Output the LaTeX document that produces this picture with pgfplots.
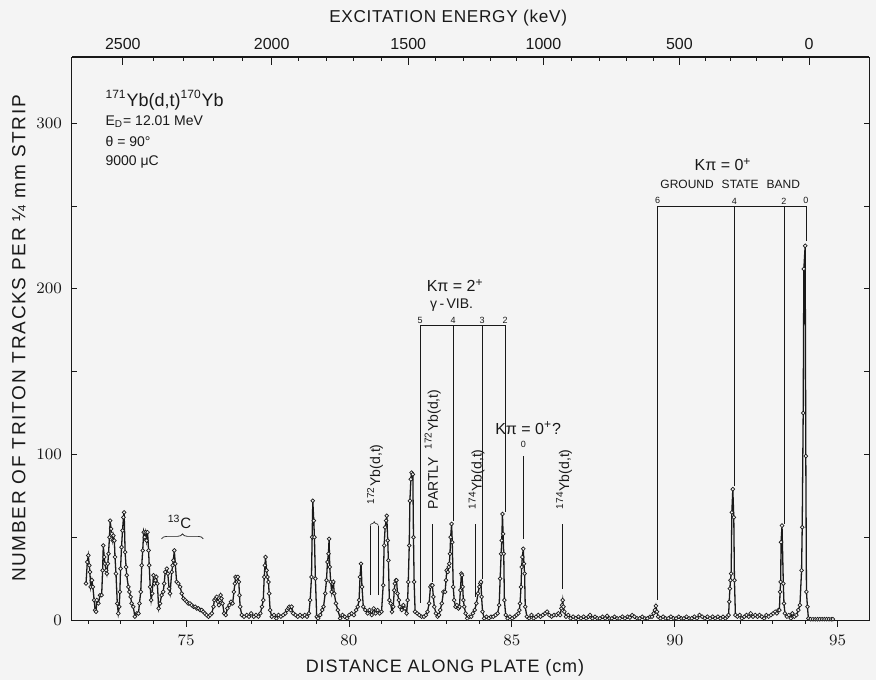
\documentclass[border=0pt]{standalone}
\usepackage{fontspec}
\setmainfont{Liberation Sans}
\usepackage{pgfplots}
\usepackage{pgfplotstable}
\pgfplotsset{compat=1.18}
\usetikzlibrary{decorations.pathreplacing}

\definecolor{paper}{gray}{0.955}
\definecolor{ink}{gray}{0.10}

% triton counts per 1/4 mm strip versus position along the plate (cm)
\pgfplotstableread{
x y
71.93 22
71.97 35
72.00 39
72.03 33
72.05 29
72.07 20
72.11 24
72.14 20
72.18 12
72.21 6
72.24 5
72.26 12
72.31 10
72.36 15
72.41 15
72.44 30
72.46 45
72.49 38
72.51 34
72.55 30
72.57 28
72.60 34
72.62 40
72.65 50
72.67 60
72.70 55
72.72 52
72.75 48
72.77 51
72.80 48
72.82 38
72.85 28
72.89 10
72.92 4
72.95 8
72.97 17
72.99 31
73.02 44
73.05 54
73.08 62
73.10 65
73.13 41
73.16 32
73.18 27
73.23 20
73.26 17
73.30 14
73.33 10
73.38 8
73.43 2
73.49 4
73.54 4
73.57 10
73.61 17
73.64 33
73.67 42
73.70 53
73.73 50
73.76 53
73.79 48
73.82 53
73.85 42
73.87 33
73.90 20
73.93 12
73.96 16
74.00 27
74.03 22
74.06 24
74.09 26
74.12 22
74.16 7
74.20 10
74.25 15
74.30 17
74.33 22
74.36 29
74.41 31
74.44 28
74.48 19
74.51 16
74.56 29
74.59 33
74.61 36
74.64 42
74.67 34
74.71 23
74.76 22
74.82 20
74.87 16
74.92 13
74.97 12
75.02 11
75.07 10
75.12 10
75.17 9
75.23 8
75.28 8
75.33 7
75.38 7
75.43 6
75.48 6
75.53 5
75.58 4
75.63 3
75.69 2
75.74 3
75.79 4
75.84 8
75.87 12
75.91 13
75.94 14
75.98 11
76.01 9
76.04 12
76.06 15
76.09 13
76.12 10
76.17 4
76.22 3
76.27 7
76.33 9
76.38 11
76.43 10
76.47 17
76.50 22
76.52 26
76.55 25
76.59 26
76.62 23
76.64 15
76.66 8
76.71 3
76.78 2
76.86 3
76.93 2
77.00 4
77.08 2
77.15 3
77.22 2
77.28 4
77.33 8
77.37 12
77.40 26
77.42 33
77.44 38
77.47 30
77.50 26
77.53 23
77.55 16
77.58 6
77.63 2
77.70 3
77.77 1
77.84 3
77.91 2
77.98 3
78.05 4
78.10 6
78.14 7
78.17 8
78.21 6
78.24 8
78.29 4
78.36 3
78.43 2
78.50 3
78.57 2
78.64 3
78.71 2
78.77 4
78.81 12
78.85 26
78.87 50
78.89 72
78.92 60
78.94 50
78.97 25
79.01 2
79.05 1
79.12 3
79.18 6
79.22 8
79.27 16
79.31 24
79.34 35
79.37 40
79.39 49
79.41 32
79.44 23
79.47 17
79.50 22
79.52 23
79.55 16
79.60 10
79.66 6
79.73 1
79.80 3
79.87 2
79.94 1
80.01 3
80.08 4
80.15 3
80.22 6
80.27 8
80.31 12
80.34 26
80.37 34
80.40 20
80.44 8
80.50 6
80.57 4
80.63 6
80.70 3
80.76 7
80.82 4
80.88 6
80.94 4
81.00 5
81.05 21
81.08 45
81.11 56
81.14 60
81.16 63
81.19 48
81.21 36
81.24 12
81.28 10
81.32 5
81.36 8
81.39 18
81.41 22
81.44 24
81.46 24
81.49 16
81.53 12
81.56 8
81.62 6
81.67 9
81.72 7
81.77 4
81.80 12
81.82 23
81.85 45
81.87 72
81.90 85
81.92 89
81.96 88
81.98 50
82.00 23
82.03 5
82.09 4
82.16 3
82.23 2
82.30 2
82.36 3
82.41 5
82.46 10
82.50 20
82.53 21
82.56 21
82.59 14
82.62 8
82.67 4
82.72 2
82.76 3
82.80 6
82.85 10
82.90 17
82.95 17
82.98 24
83.00 30
83.03 29
83.06 32
83.08 34
83.10 40
83.12 50
83.15 58
83.17 47
83.20 20
83.23 12
83.27 8
83.31 9
83.36 7
83.39 8
83.42 18
83.45 28
83.47 27
83.49 20
83.51 12
83.54 8
83.58 4
83.63 1
83.69 2
83.75 2
83.80 4
83.86 6
83.91 10
83.96 16
84.00 20
84.03 22
84.05 23
84.07 14
84.10 5
84.15 1
84.22 2
84.29 1
84.36 2
84.43 2
84.50 3
84.56 4
84.61 9
84.64 25
84.67 40
84.69 48
84.71 64
84.73 52
84.75 40
84.77 12
84.81 3
84.87 1
84.94 2
85.01 1
85.08 2
85.14 3
85.20 4
85.23 6
85.25 10
85.28 20
85.30 32
85.32 38
85.35 43
85.37 34
85.39 28
85.41 8
85.46 2
85.53 1
85.60 3
85.67 1
85.74 2
85.81 3
85.88 2
85.95 3
86.02 4
86.08 5
86.15 3
86.22 2
86.29 3
86.37 3
86.43 4
86.48 3
86.52 7
86.54 9
86.56 12
86.58 8
86.61 5
86.66 2
86.73 3
86.80 1
86.88 2
86.96 1
87.04 2
87.12 1
87.20 2
87.28 1
87.35 2
87.40 3
87.47 1
87.55 2
87.62 1
87.70 1
87.78 2
87.86 1
87.92 2.5
87.99 1
88.07 1
88.15 2
88.23 1
88.31 1
88.39 2
88.47 1
88.55 2
88.62 1.5
88.69 3
88.76 2
88.84 1
88.92 1
89.00 2
89.08 1
89.16 1
89.24 2
89.30 2
89.35 4
89.39 6
89.42 8.5
89.45 5
89.49 2
89.56 1
89.64 2
89.72 1
89.80 1
89.88 2
89.96 1
90.04 1
90.12 2
90.20 1
90.28 1
90.36 2
90.44 1
90.52 1
90.60 2
90.68 1
90.76 3
90.84 2
90.92 1
91.00 2
91.08 1
91.16 2
91.24 1
91.32 2
91.40 1
91.48 2
91.55 1
91.61 2
91.65 3
91.67 11
91.69 19
91.71 24
91.73 28
91.75 65
91.78 79
91.81 62
91.83 24
91.86 3
91.92 2
91.99 3
92.06 1
92.13 2
92.20 3
92.27 2
92.33 4
92.40 2
92.47 3
92.54 2
92.60 3
92.67 2
92.74 1
92.81 3
92.88 2
92.95 3
93.02 4
93.08 5
93.13 4
93.18 6
93.21 6
93.23 17
93.25 23
93.26 47
93.29 57
93.33 22
93.35 10
93.38 4
93.44 2
93.50 3
93.56 1
93.61 4
93.67 2
93.73 3
93.79 6
93.84 9
93.89 30
93.91 56
93.94 125
93.96 212
94.00 226
94.02 99
94.04 17
94.07 8
94.10 1
94.17 0.5
94.24 0.5
94.31 0.5
94.38 0.5
94.45 0.5
94.52 0.5
94.59 0.5
94.66 0.5
94.73 0.5
94.80 0.5
94.85 0.5
}\spectrum

\pgfplotsset{
  plate/.style={
    scale only axis, width=398.5pt, height=281.5pt,
    at={(0,0)}, anchor=south west,
    xmin=71.5, xmax=95.96, ymin=0, ymax=340,
    axis line style={line width=0.5pt, ink},
    tick style={line width=0.4pt, ink},
    tick label style={font=\fontsize{8}{9}\selectfont, text=ink},
  },
}

\begin{document}
\begin{tikzpicture}
\path[use as bounding box, fill=paper] (-36pt,-30pt) rectangle (402pt,310pt);

% counts scale, ticks on both sides
\begin{axis}[plate, xtick=\empty,
  ytick={0,100,200,300}, minor ytick={50,150,250},
  ytick pos=both, yticklabel pos=left, tick align=inside,
  major tick length=2.5pt, minor tick length=2.5pt,
  yticklabel style={xshift=-1.5pt}]
\end{axis}

% excitation energy scale along the top
\begin{axis}[plate, axis x line*=top, axis y line=none, ytick=\empty,
  tick align=inside,
  xtick={73.06,77.63,81.82,85.97,90.14,94.12},
  xticklabels={2500,2000,1500,1000,500,0},
  minor xtick={74.00,74.92,75.84,76.74,78.45,79.30,80.13,81.01,82.64,83.51,
    84.33,85.15,86.84,87.68,88.52,89.34,90.93,91.72,92.51,93.31},
  major tick length=3.8pt, minor tick length=2pt]
\end{axis}

% spectrum and plate scale
\begin{axis}[plate, ytick=\empty, clip=false,
  xtick={75,80,85,90,95},
  minor xtick={72,73,74,76,77,78,79,81,82,83,84,86,87,88,89,91,92,93,94},
  xtick pos=left, tick align=outside,
  major tick length=3.3pt, minor tick length=1.8pt,
  xticklabel style={yshift=-1pt}]

\addplot[ink, line width=0.65pt, mark=*, mark size=0.95pt,
  mark options={fill=paper, draw=ink, line width=0.35pt, solid}]
  table {\spectrum};

% axis titles
\node[font=\fontsize{9.5}{11}\selectfont\addfontfeatures{LetterSpace=9}, text=ink, rotate=90]
  at (axis description cs:-0.0665,0.5) {NUMBER OF TRITON TRACKS PER ¼ mm STRIP};
\node[font=\fontsize{9}{10}\selectfont\addfontfeatures{LetterSpace=5}, text=ink]
  at (axis description cs:0.468,-0.0853) {DISTANCE ALONG PLATE (cm)};
\node[font=\fontsize{8.6}{10}\selectfont\addfontfeatures{LetterSpace=4}, text=ink]
  at (axis description cs:0.472,1.0693) {EXCITATION ENERGY (keV)};

% reaction and run conditions
\node[anchor=west, font=\fontsize{9}{10}\selectfont, text=ink, inner sep=0pt]
  at (axis cs:72.52,314) {\textsuperscript{171}Yb(d,t)\textsuperscript{170}Yb};
\node[anchor=west, font=\fontsize{7}{8}\selectfont, text=ink, inner sep=0pt]
  at (axis cs:72.52,301) {E\textsubscript{D}= 12.01 MeV};
\node[anchor=west, font=\fontsize{7}{8}\selectfont, text=ink, inner sep=0pt]
  at (axis cs:72.52,289) {θ = 90°};
\node[anchor=west, font=\fontsize{7}{8}\selectfont, text=ink, inner sep=0pt]
  at (axis cs:72.52,276.5) {9000 μC};

% 13C contaminant
\draw[ink, line width=0.35pt, decorate, decoration={brace, amplitude=2.5pt}]
  (axis cs:74.25,49) -- (axis cs:75.53,49);
\node[font=\fontsize{7.5}{8}\selectfont, text=ink] at (axis cs:74.8,59)
  {\textsuperscript{13}C};

% contaminant groups
\begin{scope}[line width=0.3pt, draw=ink]
\draw (axis cs:80.65,15) -- (axis cs:80.65,57);
\draw (axis cs:80.90,15) -- (axis cs:80.90,57);
\draw[decorate, decoration={brace, amplitude=2pt}] (axis cs:80.65,57) -- (axis cs:80.90,57);
\draw (axis cs:82.57,23) -- (axis cs:82.57,58);
\draw (axis cs:83.89,14) -- (axis cs:83.89,58);
\draw (axis cs:86.56,19) -- (axis cs:86.56,58);
\draw (axis cs:85.35,49) -- (axis cs:85.35,99);
\end{scope}
\begin{scope}[every node/.style={rotate=90, font=\fontsize{7}{8}\selectfont, text=ink}]
\node at (axis cs:80.80,88) {\textsuperscript{172}Yb(d,t)};
\node at (axis cs:82.57,103) {PARTLY\ \ \textsuperscript{172}Yb(d,t)};
\node at (axis cs:83.92,85) {\textsuperscript{174}Yb(d,t)};
\node at (axis cs:86.60,85) {\textsuperscript{174}Yb(d,t)};
\end{scope}
\node[font=\fontsize{8}{9}\selectfont, text=ink] at (axis cs:85.50,116) {Kπ = 0\textsuperscript{+}?};
\node[font=\fontsize{4.5}{5}\selectfont, text=ink] at (axis cs:85.35,106) {0};

% gamma-vibrational band
\draw[ink, line width=0.3pt] (axis cs:82.18,178) -- (axis cs:84.79,178);
\draw[ink, line width=0.3pt] (axis cs:82.18,178) -- (axis cs:82.18,10);
\draw[ink, line width=0.3pt] (axis cs:83.20,178) -- (axis cs:83.20,60);
\draw[ink, line width=0.3pt] (axis cs:84.09,178) -- (axis cs:84.09,25);
\draw[ink, line width=0.3pt] (axis cs:84.79,178) -- (axis cs:84.79,65);
\begin{scope}[every node/.style={anchor=south, inner sep=0.8pt, font=\fontsize{4.5}{5}\selectfont, text=ink}]
\node at (axis cs:82.18,178) {5};
\node at (axis cs:83.20,178) {4};
\node at (axis cs:84.09,178) {3};
\node at (axis cs:84.79,178) {2};
\end{scope}
\node[font=\fontsize{8}{9}\selectfont, text=ink] at (axis cs:83.26,202) {Kπ = 2\textsuperscript{+}};
\node[font=\fontsize{7}{8}\selectfont, text=ink] at (axis cs:83.15,190) {γ\,-\,VIB.};

% ground state band
\draw[ink, line width=0.3pt] (axis cs:89.47,250) -- (axis cs:94.02,250);
\draw[ink, line width=0.3pt] (axis cs:89.47,250) -- (axis cs:89.47,12);
\draw[ink, line width=0.3pt] (axis cs:91.83,250) -- (axis cs:91.83,81);
\draw[ink, line width=0.3pt] (axis cs:93.35,250) -- (axis cs:93.35,58);
\draw[ink, line width=0.3pt] (axis cs:94.02,250) -- (axis cs:94.02,229);
\begin{scope}[every node/.style={anchor=south, inner sep=0.8pt, font=\fontsize{4.5}{5}\selectfont, text=ink}]
\node at (axis cs:89.47,250) {6};
\node at (axis cs:91.83,250) {4};
\node at (axis cs:93.35,250) {2};
\node at (axis cs:94.02,250) {0};
\end{scope}
\node[font=\fontsize{8}{9}\selectfont, text=ink] at (axis cs:91.48,275) {Kπ = 0\textsuperscript{+}};
\node[font=\fontsize{6}{7}\selectfont, text=ink] at (axis cs:91.70,263)
  {GROUND\hspace{4pt}STATE\hspace{4pt}BAND};
\end{axis}
\end{tikzpicture}
\end{document}
